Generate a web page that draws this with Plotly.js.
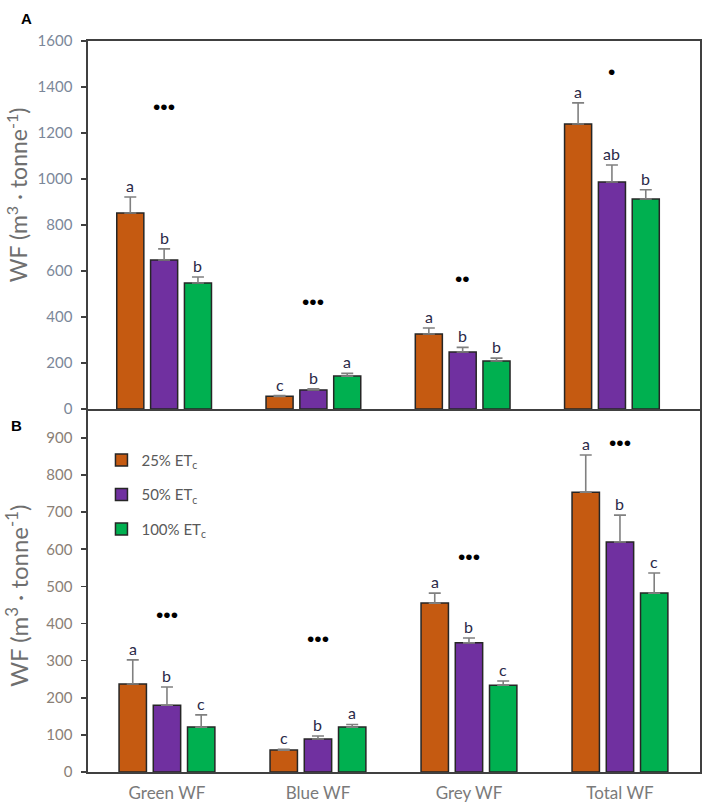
<!DOCTYPE html>
<html><head><meta charset="utf-8">
<script src="https://cdn.plot.ly/plotly-3.0.1.min.js"></script>
<style>html,body{margin:0;padding:0;background:#fff}</style>
</head><body><div id="chart" style="width:708px;height:807px"></div>
<script>
const categories = ['Green WF', 'Blue WF', 'Grey WF', 'Total WF'];
const seriesNames = ['25% ET<sub>c</sub>', '50% ET<sub>c</sub>', '100% ET<sub>c</sub>'];
const colors = ['#C55A11', '#7030A0', '#00B050'];

// Panel A
const a25 = [852, 55, 326, 1239];
const a50 = [648, 83, 248, 987];
const a100 = [548, 143, 209, 913];
const errA25 = [70, 3, 26, 92];
const errA50 = [48, 5, 20, 74];
const errA100 = [26, 12, 12, 40];
const lettersA25 = ['a', 'c', 'a', 'a'];
const lettersA50 = ['b', 'b', 'b', 'ab'];
const lettersA100 = ['b', 'a', 'b', 'b'];
const starsA = ['•••', '•••', '••', '•'];
const starsAHeight = [1322, 478, 574, 1478];

// Panel B
const b25 = [237, 59, 455, 754];
const b50 = [180, 89, 348, 620];
const b100 = [121, 121, 234, 482];
const errB25 = [65, 2, 27, 100];
const errB50 = [49, 8, 13, 72];
const errB100 = [33, 7, 11, 54];
const lettersB25 = ['a', 'c', 'a', 'a'];
const lettersB50 = ['b', 'b', 'b', 'b'];
const lettersB100 = ['c', 'a', 'c', 'c'];
const starsB = ['•••', '•••', '•••', '•••'];
const starsBHeight = [431, 364, 587, 892];

const FONT = 'Lato, "Open Sans", sans-serif';
const bargap = 0.32, bargroupgap = 0.2;
const slot = (1 - bargap) / 3;

function barTrace(vals, errs, k, xa, ya, showleg) {
  return {
    type: 'bar', x: categories, y: vals, name: seriesNames[k],
    xaxis: xa, yaxis: ya, showlegend: showleg, legendgroup: 'g' + k,
    marker: {color: colors[k], line: {color: '#262626', width: 1.5}},
    error_y: {type: 'data', array: errs, arrayminus: vals.map(() => 0), symmetric: false,
              color: '#808080', thickness: 1.6, width: 6},
    hoverinfo: 'skip'
  };
}

const data = [
  barTrace(a25, errA25, 0, 'x', 'y', false),
  barTrace(a50, errA50, 1, 'x', 'y', false),
  barTrace(a100, errA100, 2, 'x', 'y', false),
  barTrace(b25, errB25, 0, 'x2', 'y2', true),
  barTrace(b50, errB50, 1, 'x2', 'y2', true),
  barTrace(b100, errB100, 2, 'x2', 'y2', true)
];

const annotations = [];
function addLetters(vals, errs, letters, k, xref, yref) {
  for (let i = 0; i < categories.length; i++) {
    annotations.push({x: i + (k - 1) * slot, y: vals[i] + errs[i], xref: xref, yref: yref,
      text: letters[i], showarrow: false, yanchor: 'bottom', yshift: 0,
      font: {family: FONT, size: 16, color: '#2a2a48'}});
  }
}
addLetters(a25, errA25, lettersA25, 0, 'x', 'y');
addLetters(a50, errA50, lettersA50, 1, 'x', 'y');
addLetters(a100, errA100, lettersA100, 2, 'x', 'y');
addLetters(b25, errB25, lettersB25, 0, 'x2', 'y2');
addLetters(b50, errB50, lettersB50, 1, 'x2', 'y2');
addLetters(b100, errB100, lettersB100, 2, 'x2', 'y2');
function addStars(stars, heights, xref, yref) {
  for (let i = 0; i < categories.length; i++) {
    annotations.push({x: i, y: heights[i], xref: xref, yref: yref, text: stars[i],
      showarrow: false, yshift: -2,
      font: {family: '"Liberation Sans", Arial, sans-serif', size: 21, color: '#000'}});
  }
}
addStars(starsA, starsAHeight, 'x', 'y');
addStars(starsB, starsBHeight, 'x2', 'y2');
annotations.push({x: -0.1, y: 1.031, xref: 'paper', yref: 'paper', text: '<b>A</b>', showarrow: false,
  xanchor: 'center', yanchor: 'middle', font: {family: 'Liberation Sans, Arial', size: 15, color: '#000'}});
annotations.push({x: -0.117, y: 0.474, xref: 'paper', yref: 'paper', text: '<b>B</b>', showarrow: false,
  xanchor: 'center', yanchor: 'middle', font: {family: 'Liberation Sans, Arial', size: 15, color: '#000'}});
const ytitleText = 'WF (m<sup>3</sup> · tonne<sup>-1</sup>)';
annotations.push({x: -0.116, y: 0.789, xref: 'paper', yref: 'paper', text: ytitleText, textangle: -90,
  showarrow: false, xanchor: 'center', yanchor: 'middle', font: {family: FONT, size: 23, color: '#6f6f6f'}});
annotations.push({x: -0.116, y: 0.241, xref: 'paper', yref: 'paper', text: ytitleText, textangle: -90,
  showarrow: false, xanchor: 'center', yanchor: 'middle', font: {family: FONT, size: 24, color: '#6f6f6f'}});

const axisLine = {showline: true, linecolor: '#404040', linewidth: 1.6, zeroline: false, showgrid: false};
const split = 363 / 731;

const layout = {
  width: 708, height: 807,
  margin: {l: 88, r: 8, t: 41, b: 35},
  paper_bgcolor: '#fff', plot_bgcolor: '#fff',
  barmode: 'group', bargap: bargap, bargroupgap: bargroupgap,
  font: {family: FONT},
  showlegend: true,
  legend: {x: 0.022, y: 0.449, xref: 'paper', yref: 'paper', xanchor: 'left', yanchor: 'top',
           traceorder: 'grouped', tracegroupgap: 12, bgcolor: 'rgba(0,0,0,0)',
           font: {family: FONT, size: 15, color: '#595959'}},
  xaxis: Object.assign({}, axisLine, {domain: [0, 1], anchor: 'y', range: [-0.51, 3.59], mirror: true,
           showticklabels: false, ticks: '', type: 'category'}),
  yaxis: Object.assign({}, axisLine, {domain: [split, 1], anchor: 'x', range: [0, 1600], dtick: 200, mirror: true,
           ticks: 'outside', ticklen: 5, tickwidth: 1.6, tickcolor: '#404040', ticklabelstandoff: 6,
           tickfont: {family: FONT, size: 15, color: '#7b8799'}}),
  xaxis2: Object.assign({}, axisLine, {domain: [0, 1], anchor: 'y2', range: [-0.523, 3.53],
           ticks: '', type: 'category', ticklabelstandoff: 5,
           tickfont: {family: FONT, size: 17, color: '#7a7a7a'}}),
  yaxis2: Object.assign({}, axisLine, {domain: [0, split], anchor: 'x2', range: [0, 978], dtick: 100, mirror: true,
           ticks: 'outside', ticklen: 5, tickwidth: 1.6, tickcolor: '#404040', ticklabelstandoff: 6,
           tickfont: {family: FONT, size: 15, color: '#8a8076'}}),
  annotations: annotations
};

Plotly.newPlot('chart', data, layout, {displayModeBar: false, staticPlot: true});
</script></body></html>
